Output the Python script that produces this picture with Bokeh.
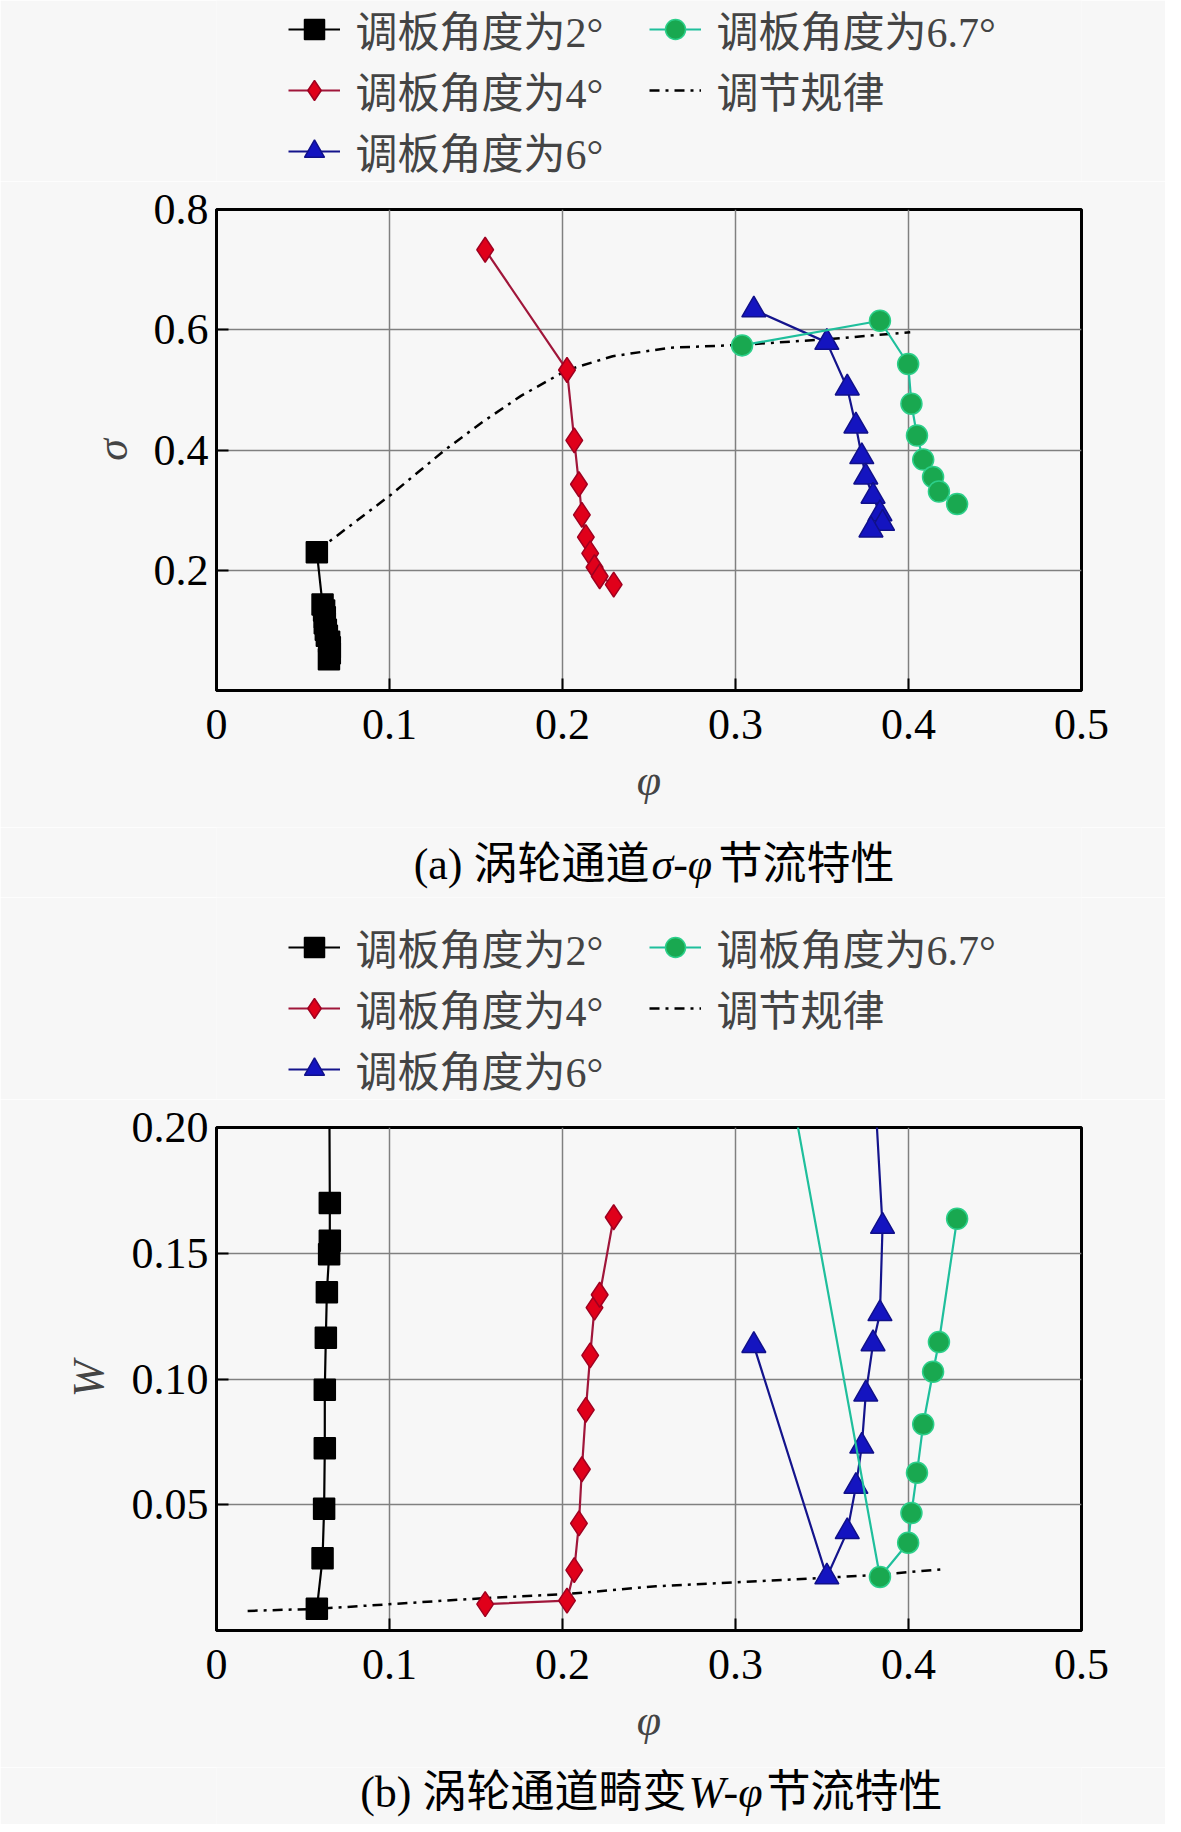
from bokeh.plotting import figure
from bokeh.models import Legend, LegendItem
from bokeh.layouts import column
from bokeh.core.properties import value
from bokeh.embed import file_html
from bokeh.resources import INLINE

# data (phi shared by both panels)
phi_2 = [0.058, 0.0613, 0.0622, 0.0626, 0.0626, 0.0632, 0.0638, 0.0651, 0.0655, 0.0655, 0.065]
sigma_2 = [0.230, 0.143, 0.133, 0.122, 0.112, 0.101, 0.091, 0.081, 0.072, 0.062, 0.052]
W_2 = [0.0086, 0.0287, 0.0484, 0.0725, 0.0957, 0.1164, 0.1345, 0.1496, 0.1550, 0.1700, 0.250]

phi_4 = [0.1553, 0.2026, 0.2068, 0.2095, 0.2112, 0.2135, 0.2160, 0.2185, 0.2215, 0.2296]
sigma_4 = [0.733, 0.533, 0.416, 0.343, 0.292, 0.255, 0.228, 0.205, 0.190, 0.176]
W_4 = [0.0105, 0.0119, 0.0240, 0.0426, 0.0641, 0.0877, 0.1094, 0.1284, 0.1335, 0.1643]

phi_6 = [0.3106, 0.3528, 0.3646, 0.3696, 0.3730, 0.3753, 0.3795, 0.3835, 0.3850, 0.3783]
sigma_6 = [0.633, 0.579, 0.503, 0.440, 0.389, 0.355, 0.323, 0.294, 0.278, 0.267]
W_6 = [0.1133, 0.0213, 0.0393, 0.0573, 0.0733, 0.0940, 0.1140, 0.1260, 0.1607, 0.242]

phi_67 = [0.3038, 0.3835, 0.3998, 0.4017, 0.4049, 0.4085, 0.4142, 0.4176, 0.4281]
sigma_67 = [0.574, 0.615, 0.543, 0.477, 0.424, 0.384, 0.355, 0.331, 0.310]
W_67 = [0.322, 0.0213, 0.0349, 0.0467, 0.0627, 0.0820, 0.1029, 0.1147, 0.1637]

# regulation law (dash-dot)
phi_reg_a = [0.058, 0.101, 0.132, 0.154, 0.176, 0.2026, 0.229, 0.262, 0.3038, 0.352, 0.401]
sigma_reg = [0.232, 0.326, 0.400, 0.447, 0.490, 0.533, 0.556, 0.570, 0.575, 0.584, 0.596]
phi_reg_b = [0.018, 0.058, 0.1553, 0.2026, 0.254, 0.3528, 0.3835, 0.420]
W_reg = [0.0078, 0.0086, 0.0129, 0.0145, 0.0176, 0.0210, 0.0222, 0.0244]

labels = ["调板角度为2°", "调板角度为4°", "调板角度为6°", "调板角度为6.7°", "调节规律"]
x_ticks = [0, 0.1, 0.2, 0.3, 0.4, 0.5]
x_tick_labels = ["0", "0.1", "0.2", "0.3", "0.4", "0.5"]
y_ticks_a = [0.2, 0.4, 0.6, 0.8]
y_tick_labels_a = ["0.2", "0.4", "0.6", "0.8"]
y_ticks_b = [0.05, 0.10, 0.15, 0.20]
y_tick_labels_b = ["0.05", "0.10", "0.15", "0.20"]
title_a = ["(a) 涡轮通道", "σ-φ", "节流特性"]
title_b = ["(b) 涡轮通道畸变", "W-φ", "节流特性"]

FONT = "Liberation Serif, Noto Sans CJK SC"
LATIN = "Liberation Serif"
FS = "44px"
BG = "#f7f7f7"
FRAME_W = 865
LEFT, RIGHT = 216, 84

# series styles: (line colour, marker, size, fill, marker outline)
STYLES = [("black", "square", 21, "black", "black"),
          ("#a0163a", "diamond", 25, "#e0001a", "#a00020"),
          ("#14148c", "triangle", 24, "#1414c0", "#10108a"),
          ("#1fbf9c", "circle", 21, "#19a850", "#2ccf8a")]
REG_STYLE = dict(line_color="black", line_width=2.5, line_dash="10 6 3 6")


def draw_series(p, xs, ys):
    out = []
    for x, y, (lc, mk, sz, fc, mc) in zip(xs, ys, STYLES):
        ln = p.line(x, y, line_color=lc, line_width=2.2)
        sc = p.scatter(x, y, marker=mk, size=sz, fill_color=fc,
                       line_color=mc, line_width=1.5)
        out.append([ln, sc])
    return out


def blank(height, x_range, y_range):
    f = figure(width=LEFT + FRAME_W + RIGHT, height=height, x_range=x_range,
               y_range=y_range, output_backend="svg", toolbar_location=None,
               min_border_left=LEFT, min_border_right=RIGHT,
               min_border_top=0, min_border_bottom=0)
    f.axis.visible = False
    f.grid.grid_line_color = None
    f.outline_line_color = None
    f.background_fill_color = BG
    f.border_fill_color = BG
    return f


def make_legend_fig(height, margin, xs, ys, phi_reg, y_reg):
    # the series are drawn again here (out of view) only to feed the legend
    f = blank(height, (10, 20), (10, 20))
    rs = draw_series(f, xs, ys)
    reg = f.line(phi_reg, y_reg, **REG_STYLE)
    # row-major order: 2° | 6.7° / 4° | law / 6°
    items = [LegendItem(label=labels[0], renderers=rs[0]),
             LegendItem(label=labels[3], renderers=rs[3]),
             LegendItem(label=labels[1], renderers=rs[1]),
             LegendItem(label=labels[4], renderers=[reg]),
             LegendItem(label=labels[2], renderers=rs[2])]
    legend = Legend(items=items, location="bottom_center", ncols=2, orientation="horizontal",
                    label_text_font=FONT, label_text_font_size="42px",
                    glyph_width=52, glyph_height=50, label_standoff=16,
                    label_width=293, spacing=0, padding=0, margin=margin,
                    background_fill_alpha=0, border_line_color=None)
    f.add_layout(legend)
    return f


def make_panel(frame_h, top, bottom, y_range, y_ticks, y_tick_labels, ylabel, label_gap,
               ys, y_reg, phi_reg):
    p = figure(frame_width=FRAME_W, frame_height=frame_h, x_range=(0, 0.5), y_range=y_range,
               output_backend="svg", toolbar_location=None,
               min_border_left=LEFT, min_border_right=RIGHT,
               min_border_top=top, min_border_bottom=bottom)
    p.background_fill_color = BG
    p.border_fill_color = BG
    p.outline_line_color = "black"
    p.outline_line_width = 3

    p.xaxis.ticker = x_ticks
    p.xaxis.major_label_overrides = dict(zip(x_ticks, x_tick_labels))
    p.yaxis.ticker = y_ticks
    p.yaxis.major_label_overrides = dict(zip(y_ticks, y_tick_labels))
    for ax in (p.xaxis[0], p.yaxis[0]):
        ax.axis_line_width = 3
        ax.major_tick_in = 12
        ax.major_tick_out = 0
        ax.major_tick_line_width = 2
        ax.minor_tick_line_color = None
        ax.major_label_text_font = LATIN
        ax.major_label_text_font_size = FS
        ax.major_label_text_color = "black"
        ax.axis_label_text_font = LATIN
        ax.axis_label_text_font_size = FS
        ax.axis_label_text_font_style = "italic"
    p.xaxis.major_label_standoff = 19
    p.yaxis.major_label_standoff = 8
    p.xaxis.axis_label = "φ"
    p.xaxis.axis_label_standoff = 14
    p.yaxis.axis_label = ylabel
    p.yaxis.axis_label_standoff = label_gap

    p.xgrid.ticker = [0.1, 0.2, 0.3, 0.4]
    p.ygrid.ticker = y_ticks[:-1]
    p.grid.grid_line_color = "#808080"
    p.grid.grid_line_width = 1.5

    p.line(phi_reg, y_reg, **REG_STYLE)
    draw_series(p, [phi_2, phi_4, phi_6, phi_67], ys)
    return p


def make_caption(height, parts, x_a, x_b, y):
    t = blank(height, (0, FRAME_W), (0, height))
    t.text(x=[x_a], y=[y], text=[parts[0]], text_font=value(FONT), text_font_size=FS,
           text_align="right", text_baseline="middle", text_color="black")
    t.text(x=[x_a + 2], y=[y], text=[parts[1]], text_font=value(FONT), text_font_size=FS,
           text_font_style="italic", text_align="left", text_baseline="middle", text_color="black")
    t.text(x=[x_b], y=[y], text=[parts[2]], text_font=value(FONT), text_font_size=FS,
           text_align="left", text_baseline="middle", text_color="black")
    return t


phis = [phi_2, phi_4, phi_6, phi_67]
sigmas = [sigma_2, sigma_4, sigma_6, sigma_67]
Ws = [W_2, W_4, W_6, W_67]

leg1 = make_legend_fig(181, 0, phis, sigmas, phi_reg_a, sigma_reg)
p1 = make_panel(481, 28, 137, (0, 0.8), y_ticks_a, y_tick_labels_a, "σ", 14,
                sigmas, sigma_reg, phi_reg_a)
t1 = make_caption(70, title_a, 433, 502, 33)
leg2 = make_legend_fig(202, 0, phis, Ws, phi_reg_b, W_reg)
p2 = make_panel(503, 28, 137, (0, 0.2), y_ticks_b, y_tick_labels_b, "W", 16,
                Ws, W_reg, phi_reg_b)
t2 = make_caption(57, title_b, 470, 550, 32)

p = column(leg1, p1, t1, leg2, p2, t2, spacing=0)
open("out.html", "w").write(file_html(p, INLINE))
